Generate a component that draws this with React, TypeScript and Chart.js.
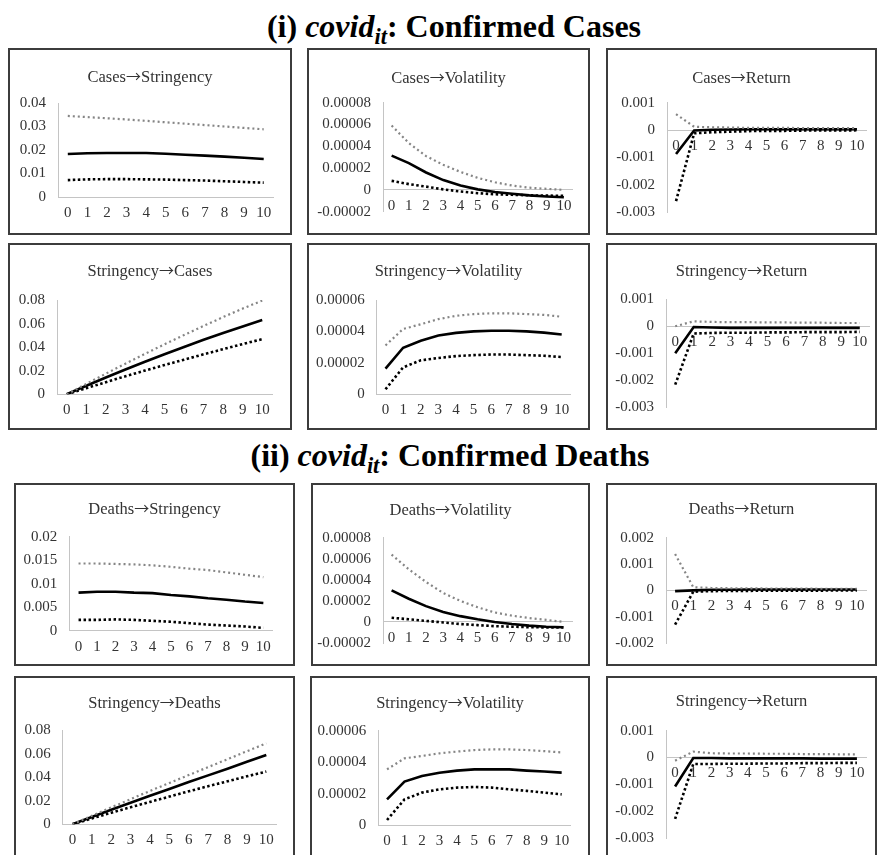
import { useEffect, useRef } from 'react';
import { Chart, registerables } from 'chart.js';
Chart.register(...registerables);

// ---------- data ----------
const horizons = ['0', '1', '2', '3', '4', '5', '6', '7', '8', '9', '10'];

// (i) Confirmed cases
const casesStrIrf = [0.0183, 0.0186, 0.0187, 0.0187, 0.0187, 0.0184, 0.018, 0.0176, 0.0172, 0.0167, 0.0162];
const casesStrUp = [0.0345, 0.034, 0.0335, 0.033, 0.0324, 0.0318, 0.0312, 0.0306, 0.03, 0.0294, 0.0288];
const casesStrLo = [0.0072, 0.0075, 0.0076, 0.0076, 0.0075, 0.0074, 0.0072, 0.007, 0.0067, 0.0064, 0.0061];

const casesVolIrf = [0.0000314, 0.0000246, 0.000016, 0.000009, 0.000004, 0.0000005, -0.000002, -0.0000036, -0.000005, -0.000006, -0.0000068];
const casesVolUp = [0.000059, 0.000043, 0.000031, 0.000023, 0.0000165, 0.000011, 0.000007, 0.000004, 0.000002, 0.000001, 0.0];
const casesVolLo = [0.0000083, 0.0000053, 0.000003, 0.0000005, -0.0000015, -0.000003, -0.000004, -0.0000045, -0.000005, -0.0000052, -0.0000055];

const casesRetIrf = [-0.00088, -0.00002, 0.00001, 0.00002, 0.00003, 0.00003, 0.00003, 0.00003, 0.00003, 0.00003, 0.00003];
const casesRetUp = [0.00058, 0.00012, 0.0001, 0.00009, 0.00008, 0.00008, 0.00008, 0.00007, 0.00007, 0.00007, 0.00007];
const casesRetLo = [-0.0026, -0.00012, -0.00008, -0.00006, -0.00004, -0.00003, -0.00003, -0.00002, -0.00002, -0.00002, -0.00001];

const strCasesIrf = [0, 0.0072, 0.0142, 0.021, 0.0276, 0.034, 0.0402, 0.0462, 0.052, 0.0576, 0.063];
const strCasesUp = [0, 0.0088, 0.0175, 0.026, 0.0343, 0.0424, 0.0503, 0.058, 0.0655, 0.0727, 0.0795];
const strCasesLo = [0, 0.0052, 0.0103, 0.0153, 0.0201, 0.0248, 0.0294, 0.0339, 0.0383, 0.0426, 0.0468];

const strVolIrf1 = [0.0000162, 0.0000295, 0.000034, 0.0000373, 0.000039, 0.00004, 0.0000404, 0.0000404, 0.00004, 0.0000392, 0.000038];
const strVolUp1 = [0.000031, 0.0000415, 0.0000445, 0.0000478, 0.0000499, 0.000051, 0.0000515, 0.0000515, 0.000051, 0.0000505, 0.0000493];
const strVolLo1 = [0.000003, 0.000017, 0.0000215, 0.000023, 0.0000242, 0.0000248, 0.0000252, 0.0000252, 0.0000248, 0.0000244, 0.0000236];

const strRetIrf1 = [-0.001, -0.00003, -0.00005, -0.00006, -0.00006, -0.00006, -0.00006, -0.00006, -0.00006, -0.00006, -0.00006];
const strRetUp1 = [0.0, 0.00018, 0.00016, 0.00015, 0.00015, 0.00014, 0.00014, 0.00013, 0.00013, 0.00012, 0.00012];
const strRetLo1 = [-0.00217, -0.00027, -0.00025, -0.00024, -0.00024, -0.00023, -0.00023, -0.00022, -0.00022, -0.00022, -0.00021];

// (ii) Confirmed deaths
const deathsStrIrf = [0.0081, 0.0083, 0.0083, 0.0081, 0.008, 0.0076, 0.0073, 0.0069, 0.0066, 0.0062, 0.0059];
const deathsStrUp = [0.0143, 0.0143, 0.0142, 0.0141, 0.0139, 0.0136, 0.0132, 0.0129, 0.0124, 0.0119, 0.0114];
const deathsStrLo = [0.0023, 0.0023, 0.0024, 0.0023, 0.0021, 0.0019, 0.0016, 0.0013, 0.0011, 0.0009, 0.0006];

const deathsVolIrf = [0.00003, 0.000022, 0.000015, 0.0000095, 0.0000055, 0.0000025, 0.0, -0.000002, -0.0000035, -0.0000045, -0.000005];
const deathsVolUp = [0.000064, 0.00005, 0.000038, 0.0000275, 0.00002, 0.000014, 0.000009, 0.000006, 0.0000037, 0.000002, 0.0];
const deathsVolLo = [0.000004, 0.0000025, 0.000001, -0.0000005, -0.000002, -0.000003, -0.000004, -0.0000045, -0.000005, -0.0000052, -0.0000052];

const deathsRetIrf = [-0.00003, 0.0, 0.00002, 0.00002, 0.00003, 0.00003, 0.00003, 0.00003, 0.00003, 0.00003, 0.00003];
const deathsRetUp = [0.00138, 0.00012, 0.00009, 0.00008, 0.00008, 0.00007, 0.00007, 0.00007, 0.00006, 0.00006, 0.00006];
const deathsRetLo = [-0.0013, -0.00005, -0.00003, -0.00002, -0.00002, -0.00001, -0.00001, -0.00001, -0.00001, 0.0, 0.0];

const strDeathsIrf = [0, 0.0062, 0.0123, 0.0183, 0.0242, 0.03, 0.0358, 0.0415, 0.0472, 0.053, 0.0588];
const strDeathsUp = [0, 0.0072, 0.0143, 0.0213, 0.0283, 0.035, 0.0418, 0.0485, 0.0552, 0.062, 0.0687];
const strDeathsLo = [0, 0.005, 0.0098, 0.0145, 0.019, 0.0235, 0.028, 0.0323, 0.0365, 0.0407, 0.0447];

const strVolIrf2 = [0.0000163, 0.0000276, 0.0000312, 0.0000333, 0.0000346, 0.0000354, 0.0000354, 0.0000354, 0.0000346, 0.000034, 0.0000333];
const strVolUp2 = [0.0000354, 0.0000424, 0.0000439, 0.0000456, 0.0000467, 0.0000477, 0.0000481, 0.0000481, 0.0000477, 0.000047, 0.0000462];
const strVolLo2 = [0.0000032, 0.0000163, 0.0000206, 0.0000227, 0.0000238, 0.0000242, 0.0000238, 0.0000227, 0.0000217, 0.0000206, 0.0000195];

const strRetIrf2 = [-0.00108, -0.00002, -0.00002, -0.00003, -0.00003, -0.00003, -0.00003, -0.00003, -0.00004, -0.00004, -0.00004];
const strRetUp2 = [-0.00012, 0.00022, 0.00016, 0.00015, 0.00015, 0.00014, 0.00014, 0.00013, 0.00013, 0.00012, 0.00012];
const strRetLo2 = [-0.00229, -0.00024, -0.00024, -0.00023, -0.00023, -0.00022, -0.00022, -0.00021, -0.00021, -0.0002, -0.0002];

// axis ranges [min, max, step]
const axStr1 = [0, 0.04, 0.01];
const axVol = [-0.00002, 0.00008, 0.00002];
const axRet = [-0.003, 0.001, 0.001];
const axLevel = [0, 0.08, 0.02];
const axStrVol = [0, 0.00006, 0.00002];
const axStr2 = [0, 0.02, 0.005];
const axRet2 = [-0.002, 0.002, 0.001];

// panel titles: [impulse, response]
const panelTitles = [
  ['Cases', 'Stringency'], ['Cases', 'Volatility'], ['Cases', 'Return'],
  ['Stringency', 'Cases'], ['Stringency', 'Volatility'], ['Stringency', 'Return'],
  ['Deaths', 'Stringency'], ['Deaths', 'Volatility'], ['Deaths', 'Return'],
  ['Stringency', 'Deaths'], ['Stringency', 'Volatility'], ['Stringency', 'Return'],
];

// ---------- layout (box: left, top, right, bottom; plot area in page px) ----------
type Geo = { box: number[]; axisX: number; axisEnd: number; top: number; bottom: number; titleY: number };
const geos: Geo[] = [
  { box: [8, 48, 292, 235], axisX: 58, axisEnd: 273.5, top: 103, bottom: 197, titleY: 75.5 },
  { box: [307, 48, 590, 235], axisX: 383, axisEnd: 572.5, top: 102.7, bottom: 211.7, titleY: 77 },
  { box: [606, 48, 877, 235], axisX: 667, axisEnd: 866, top: 102.7, bottom: 213.3, titleY: 77 },
  { box: [8, 243, 292, 430], axisX: 57, axisEnd: 272, top: 300, bottom: 394.3, titleY: 270 },
  { box: [307, 243, 590, 430], axisX: 376.7, axisEnd: 570.5, top: 300, bottom: 394, titleY: 270 },
  { box: [606, 243, 877, 430], axisX: 666, axisEnd: 869, top: 299.3, bottom: 410, titleY: 269.5 },
  { box: [14, 483, 295, 666], axisX: 69.3, axisEnd: 272.6, top: 536.7, bottom: 630.7, titleY: 508 },
  { box: [311, 483, 590, 666], axisX: 383, axisEnd: 572, top: 537.7, bottom: 646.8, titleY: 509 },
  { box: [606, 483, 877, 666], axisX: 666, axisEnd: 866, top: 537.7, bottom: 645.7, titleY: 508 },
  { box: [14, 676, 295, 861], axisX: 62.7, axisEnd: 276, top: 730, bottom: 824.3, titleY: 702 },
  { box: [310, 676, 590, 861], axisX: 378.3, axisEnd: 570.4, top: 730.7, bottom: 825, titleY: 702 },
  { box: [606, 676, 877, 861], axisX: 666, axisEnd: 866, top: 730.7, bottom: 841, titleY: 700 },
];

const panelSeries = [
  [casesStrIrf, casesStrUp, casesStrLo, axStr1],
  [casesVolIrf, casesVolUp, casesVolLo, axVol],
  [casesRetIrf, casesRetUp, casesRetLo, axRet],
  [strCasesIrf, strCasesUp, strCasesLo, axLevel],
  [strVolIrf1, strVolUp1, strVolLo1, axStrVol],
  [strRetIrf1, strRetUp1, strRetLo1, axRet],
  [deathsStrIrf, deathsStrUp, deathsStrLo, axStr2],
  [deathsVolIrf, deathsVolUp, deathsVolLo, axVol],
  [deathsRetIrf, deathsRetUp, deathsRetLo, axRet2],
  [strDeathsIrf, strDeathsUp, strDeathsLo, axLevel],
  [strVolIrf2, strVolUp2, strVolLo2, axStrVol],
  [strRetIrf2, strRetUp2, strRetLo2, axRet],
];

const SERIF = '"Liberation Serif", "Times New Roman", serif';
const BORDER = 2;
const TITLE_SIZE = 16.5;
const TICK_SIZE = 15;
const TEXT = '#333333';
const AXIS = '#c4c4c4';

function Panel({ idx }: { idx: number }) {
  const ref = useRef<HTMLCanvasElement | null>(null);
  const g = geos[idx];
  const [l, t, r, b] = g.box;
  const innerL = l + BORDER;
  const innerT = t + BORDER;
  const innerR = r - BORDER;
  const innerB = b - BORDER;
  const w = innerR - innerL;
  const h = innerB - innerT;

  useEffect(() => {
    const [irf, up, lo, ax] = panelSeries[idx] as number[][];
    const yWidth = g.axisX - innerL;
    const chart = new Chart(ref.current as HTMLCanvasElement, {
      type: 'line',
      data: {
        labels: horizons,
        datasets: [
          { data: up, borderColor: '#858585', borderWidth: 2.2, borderDash: [2, 3], pointRadius: 0, tension: 0, fill: false },
          { data: irf, borderColor: '#000000', borderWidth: 2.6, pointRadius: 0, tension: 0, fill: false },
          { data: lo, borderColor: '#000000', borderWidth: 2.6, borderDash: [2.5, 2.5], pointRadius: 0, tension: 0, fill: false },
        ],
      },
      options: {
        animation: false,
        responsive: false,
        events: [],
        layout: { padding: { left: 0, top: g.top - innerT, right: innerR - g.axisEnd, bottom: innerB - g.bottom } },
        plugins: {
          legend: { display: false },
          tooltip: { enabled: false },
          title: { display: false },
        },
        scales: {
          x: {
            type: 'category',
            axis: 'x',
            offset: true,
            position: { y: 0 } as any,
            grid: { display: false, drawTicks: false },
            border: { display: true, color: AXIS, width: 1 },
            ticks: { color: TEXT, font: { family: SERIF, size: TICK_SIZE }, padding: 7, maxRotation: 0, autoSkip: false },
          },
          y: {
            type: 'linear',
            min: ax[0],
            max: ax[1],
            grid: { display: false, drawTicks: false },
            border: { display: true, color: AXIS, width: 1 },
            ticks: {
              stepSize: ax[2],
              color: TEXT,
              font: { family: SERIF, size: TICK_SIZE },
              padding: 12,
              callback: (v: any) => String(parseFloat(Number(v).toFixed(8))),
            },
            afterFit: (s: any) => {
              s.width = yWidth;
            },
          },
        },
      } as any,
    });
    return () => chart.destroy();
  }, [idx]);

  const [from, to] = panelTitles[idx];
  return (
    <div
      style={{
        position: 'absolute',
        left: l,
        top: t,
        width: r - l,
        height: b - t,
        boxSizing: 'border-box',
        border: `${BORDER}px solid #3c3c3c`,
        background: '#fff',
      }}
    >
      <canvas ref={ref} width={w} height={h} style={{ display: 'block', width: w, height: h }} />
      <div
        style={{
          position: 'absolute',
          left: 0,
          width: w,
          top: g.titleY - innerT - 10,
          height: 20,
          lineHeight: '20px',
          textAlign: 'center',
          fontFamily: SERIF,
          fontSize: TITLE_SIZE,
          color: TEXT,
          whiteSpace: 'nowrap',
        }}
      >
        {from}
        <span style={{ fontFamily: '"Noto Sans CJK JP", "DejaVu Sans", sans-serif', fontSize: 15 }}>→</span>
        {to}
      </div>
    </div>
  );
}

function Heading({ top, centerX, label, rest }: { top: number; centerX: number; label: string; rest: string }) {
  return (
    <div
      style={{
        position: 'absolute',
        top,
        left: centerX,
        transform: 'translateX(-50%)',
        whiteSpace: 'nowrap',
        fontFamily: SERIF,
        fontWeight: 'bold',
        fontSize: 32,
        lineHeight: '32px',
        color: '#000',
      }}
    >
      {label} <i>covid<sub style={{ fontSize: '0.7em' }}>it</sub></i>: {rest}
    </div>
  );
}

export default function App() {
  return (
    <div style={{ position: 'absolute', left: 0, top: 0, width: 877, height: 855, overflow: 'hidden', background: '#fff' }}>
      <Heading top={10} centerX={454} label="(i)" rest="Confirmed Cases" />
      <Heading top={439} centerX={450} label="(ii)" rest="Confirmed Deaths" />
      {geos.map((_, i) => (
        <Panel key={i} idx={i} />
      ))}
    </div>
  );
}
